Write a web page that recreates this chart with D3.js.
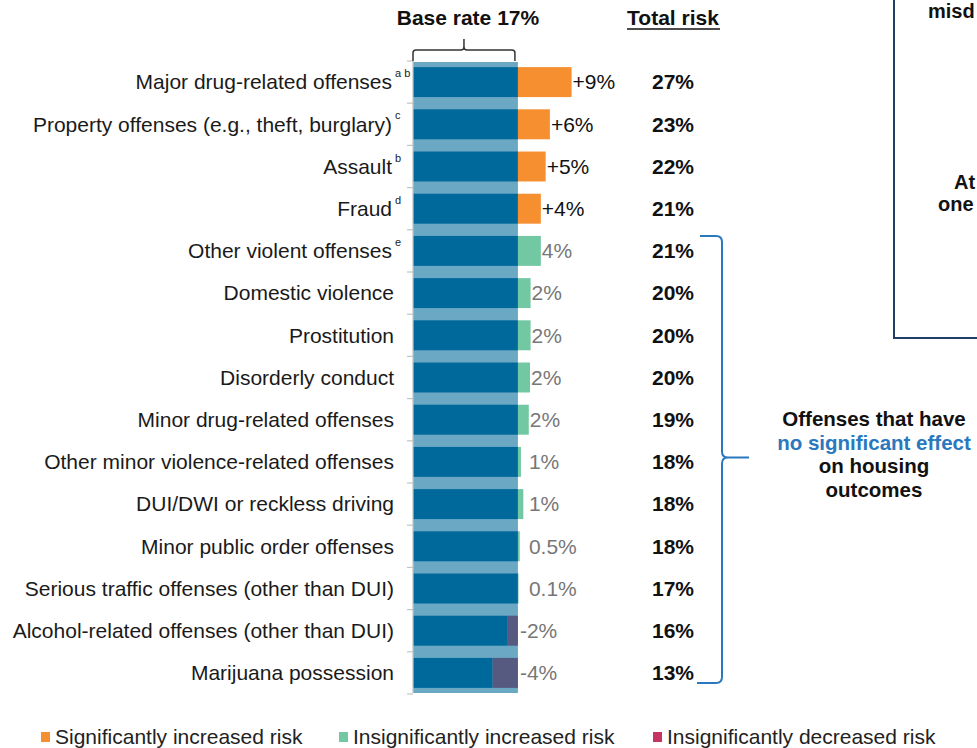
<!DOCTYPE html>
<html lang="en">
<head>
<meta charset="UTF-8">
<title>Offense type and housing risk</title>
<style>
  body { margin: 0; background: #fff; }
  svg { display: block; font-family: "Liberation Sans", Arial, sans-serif; }
  .cat { font-size: 21px; fill: #1a1a1a; text-anchor: end; }
  .sup { font-size: 11px; fill: #1a1a1a; }
  .val { font-size: 21px; }
  .total { font-size: 21px; font-weight: bold; text-anchor: middle; fill: #111; }
  .head { font-size: 21px; font-weight: bold; fill: #111; text-anchor: middle; }
  .note { font-size: 20.5px; font-weight: bold; text-anchor: middle; }
  .side { font-size: 20px; }
  .legend { font-size: 21px; fill: #222; }
</style>
</head>
<body>
<div id="chart"></div>
<script src="https://d3js.org/d3.v7.min.js"></script>
<script>
// offense categories, top to bottom
var categories = [
  "Major drug-related offenses",
  "Property offenses (e.g., theft, burglary)",
  "Assault",
  "Fraud",
  "Other violent offenses",
  "Domestic violence",
  "Prostitution",
  "Disorderly conduct",
  "Minor drug-related offenses",
  "Other minor violence-related offenses",
  "DUI/DWI or reckless driving",
  "Minor public order offenses",
  "Serious traffic offenses (other than DUI)",
  "Alcohol-related offenses (other than DUI)",
  "Marijuana possession"
];
var footnotes = ["a b", "c", "b", "d", "e", "", "", "", "", "", "", "", "", "", ""];

// base rate and added risk per offense
var baseRate = 17.4;
var addedRisk = [8.9, 5.3, 4.6, 3.8, 3.8, 2.1, 2.1, 2.0, 1.8, 0.5, 0.9, 0.3, 0.1, -1.8, -4.2];
var addedLabels = ["+9%", "+6%", "+5%", "+4%", "4%", "2%", "2%", "2%", "2%", "1%", "1%", "0.5%", "0.1%", "-2%", "-4%"];
var significance = ["sig", "sig", "sig", "sig", "up", "up", "up", "up", "up", "up", "up", "up", "up", "down", "down"];
var totalRisk = ["27%", "23%", "22%", "21%", "21%", "20%", "20%", "20%", "19%", "18%", "18%", "18%", "17%", "16%", "13%"];

var legendItems = [
  { key: "sig", label: "Significantly increased risk" },
  { key: "up", label: "Insignificantly increased risk" },
  { key: "down", label: "Insignificantly decreased risk" }
];

var barColor = { sig: "#f68f2f", up: "#71c8a2", down: "#575a80" };
var legendColor = { sig: "#f68f2f", up: "#71c8a2", down: "#c6355f" };

var width = 977, height = 748;
var svg = d3.select("#chart").append("svg")
  .attr("width", width)
  .attr("height", height);

var x = d3.scaleLinear().domain([0, 30]).range([413, 413 + 30 * 6.03]);
var y = d3.scaleBand().domain(categories).range([61, 694])
  .paddingInner(0.29).paddingOuter(0.145);

var rows = categories.map(function(c, i) {
  return { cat: c, note: footnotes[i], v: addedRisk[i], label: addedLabels[i], sig: significance[i], total: totalRisk[i] };
});

// light background band = base rate
svg.append("rect")
  .attr("x", x(0))
  .attr("y", y.range()[0] + 1)
  .attr("width", x(baseRate) - x(0))
  .attr("height", y.range()[1] - y.range()[0] - 2)
  .attr("fill", "#6aa8c4");

// dark base bars
svg.selectAll(".base").data(rows).enter().append("rect")
  .attr("class", "base")
  .attr("x", x(0))
  .attr("y", function(d) { return y(d.cat); })
  .attr("width", function(d) { return x(baseRate + Math.min(0, d.v)) - x(0); })
  .attr("height", y.bandwidth())
  .attr("fill", "#00699c");

// added / removed risk bars
svg.selectAll(".delta").data(rows).enter().append("rect")
  .attr("class", "delta")
  .attr("x", function(d) { return x(baseRate + Math.min(0, d.v)); })
  .attr("y", function(d) { return y(d.cat); })
  .attr("width", function(d) { return Math.abs(x(baseRate + d.v) - x(baseRate)); })
  .attr("height", y.bandwidth())
  .attr("fill", function(d) { return barColor[d.sig]; });

// axis line with ticks between rows
var gap = y.step() * y.paddingInner();
svg.append("line")
  .attr("x1", x(0)).attr("x2", x(0))
  .attr("y1", y.range()[0]).attr("y2", y.range()[1] - 1)
  .attr("stroke", "#c4c4c4").attr("stroke-width", 1.2);
var tickYs = categories.map(function(c) { return y(c) - gap / 2; });
tickYs.push(y(categories[categories.length - 1]) + y.bandwidth() + gap / 2);
svg.selectAll(".tick").data(tickYs).enter().append("line")
  .attr("x1", x(0) - 6).attr("x2", x(0))
  .attr("y1", function(d) { return d; }).attr("y2", function(d) { return d; })
  .attr("stroke", "#c4c4c4").attr("stroke-width", 1.2);

// category labels
var labelX = 394;
svg.selectAll(".cat").data(rows).enter().append("text")
  .attr("class", "cat")
  .attr("x", function(d) { return d.note ? labelX - 2 : labelX; })
  .attr("y", function(d) { return y(d.cat) + y.bandwidth() / 2; })
  .attr("dy", "0.35em")
  .text(function(d) { return d.cat; });
svg.selectAll(".sup").data(rows.filter(function(d) { return d.note; })).enter().append("text")
  .attr("class", "sup")
  .attr("x", labelX + 1)
  .attr("y", function(d) { return y(d.cat) + y.bandwidth() / 2 - 5; })
  .text(function(d) { return d.note; });

// value labels
svg.selectAll(".val").data(rows).enter().append("text")
  .attr("class", "val")
  .attr("x", function(d) {
    if (d.v < 0) return x(baseRate) + 2;
    return Math.max(x(baseRate + d.v) + 1, x(baseRate) + 11);
  })
  .attr("y", function(d) { return y(d.cat) + y.bandwidth() / 2; })
  .attr("dy", "0.35em")
  .attr("fill", function(d) { return d.sig === "sig" ? "#111" : "#777"; })
  .text(function(d) { return d.label; });

// total risk column
var totalX = 673;
svg.selectAll(".total").data(rows).enter().append("text")
  .attr("class", "total")
  .attr("x", totalX)
  .attr("y", function(d) { return y(d.cat) + y.bandwidth() / 2; })
  .attr("dy", "0.35em")
  .text(function(d) { return d.total; });

// headers
var x0 = x(0), x1 = x(baseRate) - 3, xm = (x0 + x1) / 2;
svg.append("text").attr("class", "head")
  .attr("x", xm + 4).attr("y", 25)
  .text("Base rate " + Math.round(baseRate) + "%");
svg.append("text").attr("class", "head")
  .attr("x", totalX).attr("y", 25)
  .text("Total risk");
svg.append("line")
  .attr("x1", 627).attr("x2", 720).attr("y1", 29).attr("y2", 29)
  .attr("stroke", "#111").attr("stroke-width", 1.6);

// bracket over the base rate
svg.append("path")
  .attr("d", "M" + x0 + ",61 V53 Q" + x0 + ",50 " + (x0 + 3) + ",50 H" + (xm - 3) +
    " Q" + xm + ",50 " + xm + ",47 V39 M" + xm + ",47 Q" + xm + ",50 " + (xm + 3) + ",50 H" + (x1 - 3) +
    " Q" + x1 + ",50 " + x1 + ",53 V61")
  .attr("fill", "none").attr("stroke", "#333").attr("stroke-width", 1.5);

// brace for insignificant offenses
var bTop = y(categories[4]), bBot = y(categories[14]) + y.bandwidth() - 5, bMid = (bTop + bBot) / 2 - 2;
var bx = 722;
svg.append("path")
  .attr("d", "M700," + bTop + " H" + (bx - 6) + " Q" + bx + "," + bTop + " " + bx + "," + (bTop + 6) +
    " V" + (bMid - 6) + " Q" + bx + "," + bMid + " " + (bx + 6) + "," + bMid + " H749" +
    " M" + (bx + 6) + "," + bMid + " Q" + bx + "," + bMid + " " + bx + "," + (bMid + 6) +
    " V" + (bBot - 6) + " Q" + bx + "," + bBot + " " + (bx - 6) + "," + bBot + " H697")
  .attr("fill", "none").attr("stroke", "#2a78bd").attr("stroke-width", 2);

var noteLines = [
  { t: "Offenses that have", c: "#111" },
  { t: "no significant effect", c: "#2a78bd" },
  { t: "on housing", c: "#111" },
  { t: "outcomes", c: "#111" }
];
svg.selectAll(".note").data(noteLines).enter().append("text")
  .attr("class", "note")
  .attr("x", 874)
  .attr("y", function(d, i) { return 426 + i * 23.5; })
  .attr("fill", function(d) { return d.c; })
  .text(function(d) { return d.t; });

// side panel at top right, only its left part shows
svg.append("rect")
  .attr("x", 894).attr("y", -10).attr("width", 120).attr("height", 348)
  .attr("fill", "none").attr("stroke", "#1f3f66").attr("stroke-width", 2);
var sideText = [
  { t: "misd", x: 928, y: 18 },
  { t: "At", x: 954, y: 189 },
  { t: "one", x: 938, y: 211 }
];
svg.selectAll(".side").data(sideText).enter().append("text")
  .attr("class", "note side").style("text-anchor", "start")
  .attr("x", function(d) { return d.x; })
  .attr("y", function(d) { return d.y; })
  .attr("fill", "#111")
  .text(function(d) { return d.t; });

// legend
var legendX = [41, 339, 653];
var lg = svg.selectAll(".lg").data(legendItems).enter().append("g")
  .attr("transform", function(d, i) { return "translate(" + legendX[i] + ",744)"; });
lg.append("rect")
  .attr("x", 0).attr("y", -12).attr("width", 9).attr("height", 10)
  .attr("fill", function(d) { return legendColor[d.key]; });
lg.append("text")
  .attr("class", "legend")
  .attr("x", 14).attr("y", 0)
  .text(function(d) { return d.label; });
</script>
</body>
</html>
